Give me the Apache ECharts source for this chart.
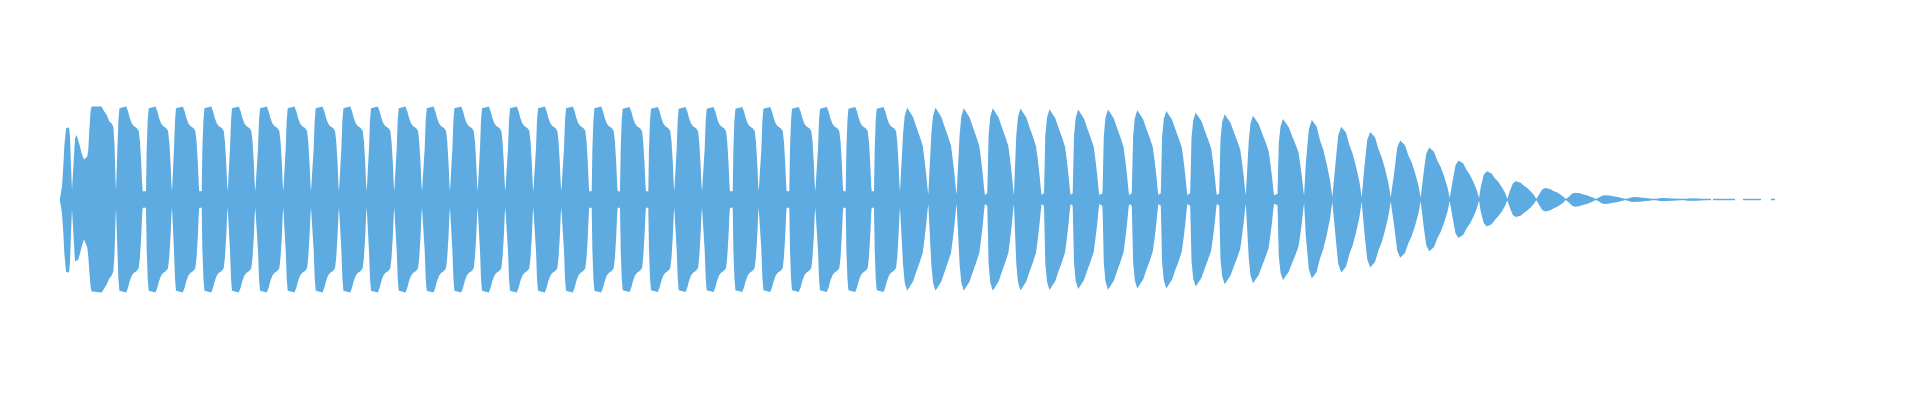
<!DOCTYPE html>
<html>
<head>
<meta charset="utf-8">
<style>html,body{margin:0;padding:0;background:#fff;}#c{width:1920px;height:400px;}</style>
<script src="https://cdn.jsdelivr.net/npm/echarts@6/dist/echarts.min.js"></script>
</head>
<body>
<div id="c"></div>
<script>
// ---- data (time in ms, amplitude in % of full scale) ----
// opening transient (first three pulses, merged)
const introTime   = [0,1.5,2,3.3,4.3,6,7,9,10,11,12,13,14,15,16.7,18.3,20,21.7,24,26,27.3,28.3,29.3,30.7,31.7,41.7,43.3,46.7,49.3,51.7,53.3,54.5,55.5,56];
const introTop    = [1.5,2,13,33,53,71,72.2,72.2,63,33,10,9,10,61,64.5,63.5,53,46,40,39.5,43,49.5,69.5,89.5,93,93,89.5,84.5,78,76,73,55,20,9];
const introBottom = [1.5,2,14,33,53,72,73.2,73.2,63,33,10,9,10,62,64,60,54,47,40,40,48,57,72,88,92,93,92,85,79,76,72,55,20,9];

// pulse onsets (pulses 4..59)
const pulseStart = [56.7,86,113.3,141.7,169.3,197.3,225,253,280.7,308.3,336,364,391.7,419.3,447.3,475.3,503.3,531.7,560,588.3,616,644,672.7,700.7,729.3,757.3,785.7,814,
  841.7,870,898.3,927.3,955,984,1012.7,1042.5,1071.8,1100.8,1130.2,1159.2,1187.5,1217.5,
  1244.3,1273.7,1302.7,1332.7,1361.7,1391,1419.3,1448.3,1477.7,1507.7,1537.5,1566.5,1595,1623];
const pulseKind  = "AAAAAAAAAAAAAAAAAAAAAAAAAAAA" + "BBBBBBBBBBBBBB" + "CCCCCCCCCCCCCC";
const pulsePeakTop = [93,93,93,93,93,93,93,93,93,93,93,93,93,93,93,93,93,93,92.6,92.6,92.6,92.6,92.6,92.6,92.6,92.6,92.6,92.6,
  92.8,92.8,92.2,92.2,92,91.2,90.8,91,90.2,89.5,87.8,86.2,84.5,81.2,
  80.2,73.5,68.3,59.5,52.5,39.5,28.5,18.5,11.5,6.8,4.3,2.4,1.4,1.0];
const pulsePeakBottom = [93,93,93,93,93,93,93,93,93,93,93,93,93,93,93,93,93,93,92.6,92.6,92.6,92.6,92.6,92.6,92.6,92.6,92.6,92.6,
  92.2,92.2,92.2,92.2,92,91.5,90.5,91.2,89.8,89.8,87.8,85.5,84.5,81.2,
  79.8,73.8,68.8,58.8,52.2,38.8,27.2,17.8,12.2,7.2,4.5,2.6,1.6,1.3];

// envelope profiles read from the pulses: offset (ms from onset) and level (share of the pulse peak)
const shapeOffset = {
  A: [0,0.7,1.7,2.7,3.5,9.5,11.3,13,15,17,20,22,23.2,24.5,25.5,26],
  B: [0,1.3,3,5.5,7.5,11.3,14.7,17.7,21,22.7,24.5,25.8,26.6],
  C: [0,1.5,4.5,7.5,9,12.3,15.7,19,22.3,25.7,28]
};
const shapeLevel = {
  A: [0.09,0.55,0.85,0.98,1,1,0.95,0.88,0.82,0.79,0.77,0.74,0.63,0.4,0.15,0.09],
  B: [0.07,0.7,0.9,0.99,1,0.89,0.78,0.69,0.58,0.44,0.27,0.12,0.05],
  C: [0.03,0.45,0.87,0.99,1,0.91,0.74,0.62,0.45,0.24,0.03]
};

// near-silent tail segments (drawn as a thin line)
const tailStart = [1653,1683,1711];
const tailEnd   = [1675,1701,1715];

// ---- build series data ----
const upper = [], lower = [];
function push(t, a, b) {
  if (upper.length && t <= upper[upper.length - 1][0]) return;
  upper.push([t, a]); lower.push([t, -b]);
}
introTime.forEach((t, i) => push(t, introTop[i], introBottom[i]));
pulseStart.forEach((s, i) => {
  const k = pulseKind[i];
  shapeOffset[k].forEach((dx, j) => push(s + dx, pulsePeakTop[i] * shapeLevel[k][j], pulsePeakBottom[i] * shapeLevel[k][j]));
});
const bodyEnd = upper[upper.length - 1][0];
// zero line: closes the seam between the two halves and draws the silent tail
const zeroLine = [[0, 0], [bodyEnd, 0]];
tailStart.forEach((s, i) => { zeroLine.push(null, [s, 0], [tailEnd[i], 0]); });

const color = '#5DABE1';
const chart = echarts.init(document.getElementById('c'), null, {renderer: 'canvas'});
const mk = (d) => ({
  type: 'line', data: d, showSymbol: false, symbol: 'none', silent: true,
  connectNulls: false, sampling: null,
  lineStyle: {width: 0, color: color},
  areaStyle: {color: color, opacity: 1},
  itemStyle: {color: color}
});
chart.setOption({
  animation: false,
  backgroundColor: '#ffffff',
  grid: {left: 60, right: 60, top: 99.5, height: 200},
  xAxis: {type: 'value', min: 0, max: 1800, show: false},
  yAxis: {type: 'value', min: -100, max: 100, show: false},
  series: [mk(upper), mk(lower), {
    type: 'line', data: zeroLine, showSymbol: false, symbol: 'none', silent: true,
    connectNulls: false, lineStyle: {width: 1.5, color: color}, z: 3
  }]
});
</script>
</body>
</html>
